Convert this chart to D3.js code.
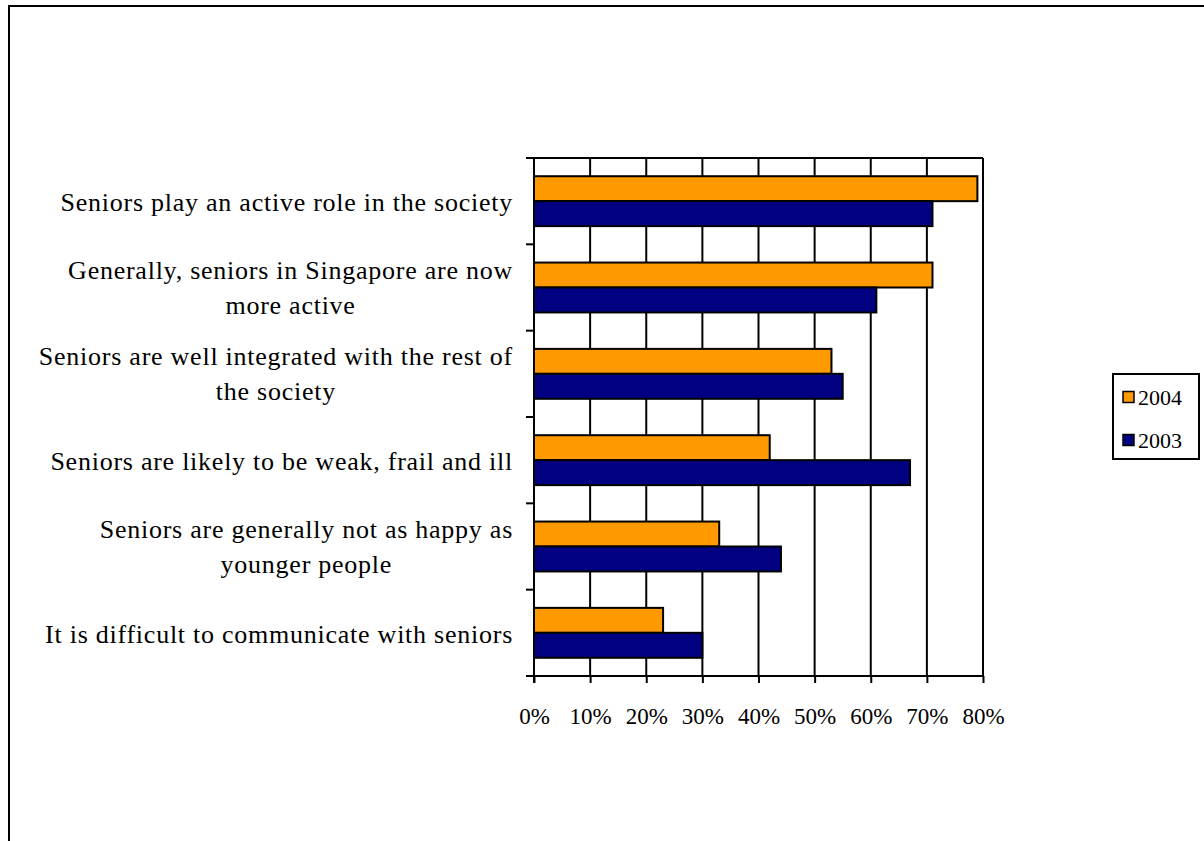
<!DOCTYPE html>
<html>
<head>
<meta charset="utf-8">
<script src="https://cdn.jsdelivr.net/npm/d3@7"></script>
<style>
  html, body { margin: 0; padding: 0; background: #fff; }
  svg { display: block; }
  text { font-family: "Liberation Serif", "Times New Roman", serif; fill: #000; }
</style>
</head>
<body>
<svg id="chart" width="1204" height="841"></svg>
<script>
const categories = [
  ["Seniors play an active role in the society"],
  ["Generally, seniors in Singapore are now", "more active"],
  ["Seniors are well integrated with the rest of", "the society"],
  ["Seniors are likely to be weak, frail and ill"],
  ["Seniors are generally not as happy as", "younger people"],
  ["It is difficult to communicate with seniors"]
];
const seriesNames = ["2004", "2003"];
const values2004 = [79, 71, 53, 42, 33, 23];
const values2003 = [71, 61, 55, 67, 44, 30];
const xTicks = [0, 10, 20, 30, 40, 50, 60, 70, 80];
const colors = ["#FF9900", "#000080"];

(function() {
const svg = d3.select("#chart");

// outer frame
svg.append("rect").attr("x", 9).attr("y", 6).attr("width", 1210).attr("height", 850)
  .attr("fill", "none").attr("stroke", "#000").attr("stroke-width", 2);

const pLeft = 534, pRight = 983, pTop = 158, pBottom = 676;
const x = d3.scaleLinear().domain([0, 80]).range([pLeft, pRight]);
const y = d3.scaleBand().domain(d3.range(categories.length)).range([pTop, pBottom]).paddingInner(0).paddingOuter(0);
const inner = d3.scaleBand().domain(seriesNames).range([0, y.bandwidth()]).paddingInner(0).paddingOuter(0.73);

// gridlines
svg.append("g").selectAll("line").data(xTicks.slice(1)).join("line")
  .attr("x1", d => x(d)).attr("x2", d => x(d)).attr("y1", pTop).attr("y2", pBottom)
  .attr("stroke", "#000").attr("stroke-width", 2);
// top border
svg.append("line").attr("x1", pLeft).attr("x2", pRight).attr("y1", pTop).attr("y2", pTop)
  .attr("stroke", "#000").attr("stroke-width", 2);

// bars
const data = categories.map((c, i) => ({ i, vals: [values2004[i], values2003[i]] }));
const groups = svg.append("g").selectAll("g").data(data).join("g")
  .attr("transform", d => `translate(0,${y(d.i)})`);
groups.selectAll("rect").data(d => d.vals.map((v, k) => ({ v, k }))).join("rect")
  .attr("x", x(0))
  .attr("y", d => inner(seriesNames[d.k]))
  .attr("width", d => x(d.v) - x(0))
  .attr("height", inner.bandwidth())
  .attr("fill", d => colors[d.k])
  .attr("stroke", "#000").attr("stroke-width", 2);

// x axis
const xAxis = d3.axisBottom(x).tickValues(xTicks).tickFormat(d => d + "%").tickSize(7).tickPadding(25);
const gx = svg.append("g").attr("transform", `translate(0,${pBottom})`).call(xAxis);
gx.select(".domain").attr("stroke", "#000").attr("stroke-width", 2).attr("d", `M${pLeft - 8},0H${pRight}`);
gx.selectAll(".tick line").attr("stroke", "#000").attr("stroke-width", 2);
gx.selectAll(".tick text").style("font-family", '"Liberation Serif", serif').style("font-size", "23px").attr("fill", "#000");

// y axis line and ticks at category boundaries
svg.append("line").attr("x1", pLeft).attr("x2", pLeft).attr("y1", pTop).attr("y2", pBottom + 7)
  .attr("stroke", "#000").attr("stroke-width", 2);
svg.append("g").selectAll("line").data(d3.range(categories.length + 1)).join("line")
  .attr("x1", pLeft - 8).attr("x2", pLeft)
  .attr("y1", d => pTop + d * y.step()).attr("y2", d => pTop + d * y.step())
  .attr("stroke", "#000").attr("stroke-width", 2);

// category labels
const lineH = 35;
const lab = svg.append("g").selectAll("text").data(categories).join("text")
  .attr("text-anchor", "middle")
  .style("font-size", "26px")
  .style("letter-spacing", "0.75px");
lab.each(function(lines, i) {
  const t = d3.select(this);
  const c = y(i) + y.bandwidth() / 2;
  const base = lines.length === 1 ? c + 10 : c - 9;
  lines.forEach((ln, j) => {
    t.append("tspan").attr("x", 0).attr("y", base + j * lineH).text(ln);
  });
  let w = 0;
  t.selectAll("tspan").each(function() { w = Math.max(w, this.getComputedTextLength()); });
  t.selectAll("tspan").attr("x", 513 - w / 2);
});

// legend
const lg = svg.append("g").attr("transform", "translate(1113,374)");
lg.append("rect").attr("width", 86).attr("height", 85).attr("fill", "#fff").attr("stroke", "#000").attr("stroke-width", 2);
seriesNames.forEach((s, k) => {
  const yy = 23 + k * 43;
  lg.append("rect").attr("x", 10).attr("y", yy - 5.5).attr("width", 11).attr("height", 11)
    .attr("fill", colors[k]).attr("stroke", "#000").attr("stroke-width", 1.5);
  lg.append("text").attr("x", 25).attr("y", yy + 7.5).style("font-size", "22px").text(s);
});
})();
</script>
</body>
</html>
